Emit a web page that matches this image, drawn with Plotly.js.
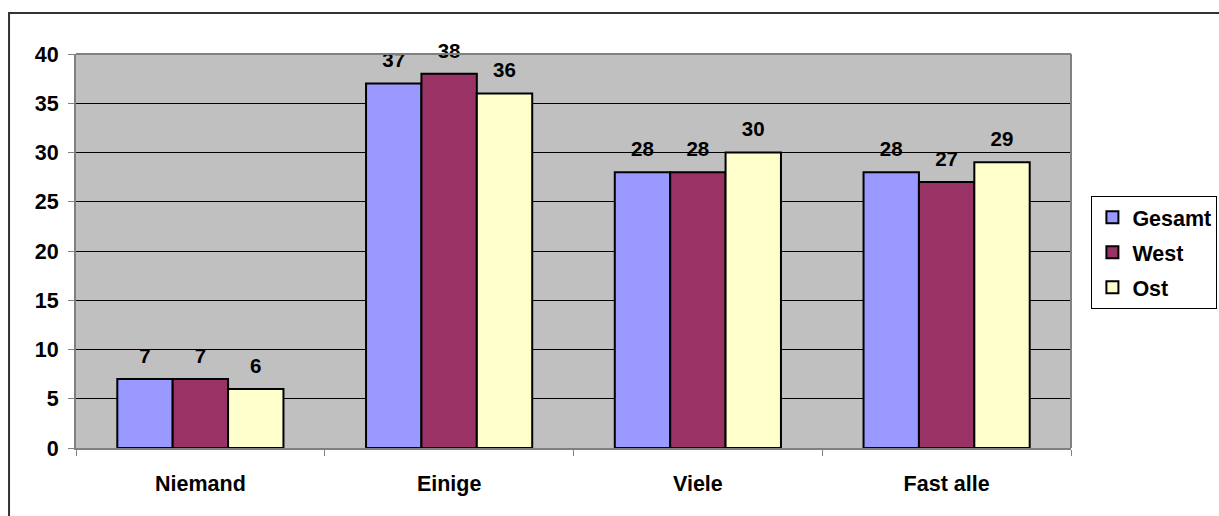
<!DOCTYPE html>
<html><head><meta charset="utf-8">
<script src="https://cdn.plot.ly/plotly-3.0.1.min.js"></script>
<style>html,body{margin:0;padding:0;background:#fff}#chart{width:1219px;height:516px}</style>
</head><body><div id="chart"></div>
<script>
const categories = ["Niemand", "Einige", "Viele", "Fast alle"];
const seriesNames = ["Gesamt", "West", "Ost"];
const gesamt = [7, 37, 28, 28];
const west = [7, 38, 28, 27];
const ost = [6, 36, 30, 29];
const colors = ["#9999FF", "#993366", "#FFFFCC"];
const yTicks = [0, 5, 10, 15, 20, 25, 30, 35, 40];

const font = "Liberation Sans, Arial, sans-serif";
const values = [gesamt, west, ost];
const bars = values.map((v, i) => ({
  type: "bar",
  name: seriesNames[i],
  x: categories,
  y: v,
  legendgroup: "g" + i,
  offsetgroup: "o" + i,
  alignmentgroup: "a",
  marker: {color: colors[i], line: {color: "#000", width: 2}},
  hoverinfo: "skip"
}));
const labels = values.map((v, i) => ({
  type: "scatter",
  mode: "markers+text",
  x: categories,
  y: v,
  showlegend: false,
  offsetgroup: "o" + i,
  alignmentgroup: "a",
  marker: {size: 16, opacity: 0, color: colors[i]},
  text: v.map(String),
  texttemplate: "<b>%{text}</b>",
  textposition: "top center",
  textfont: {family: font, size: 20.5, color: "#000"},
  cliponaxis: false
}));

const layout = {
  width: 1219, height: 516,
  margin: {l: 76, r: 148, t: 54, b: 68, autoexpand: false},
  paper_bgcolor: "#fff",
  plot_bgcolor: "#C0C0C0",
  barmode: "group",
  bargap: 0.332,
  bargroupgap: 0,
  scattermode: "group",
  scattergap: 0.332,
  showlegend: true,
  legend: {
    x: 1.0205, y: 0.64, xanchor: "left", yanchor: "top",
    bordercolor: "#000", borderwidth: 1, bgcolor: "#fff",
    font: {family: font, size: 21.5, color: "#000", weight: "bold"},
    tracegroupgap: 4, itemwidth: 30
  },
  xaxis: {
    type: "category",
    tickson: "boundaries",
    ticks: "outside", ticklen: 6, tickcolor: "#808080", tickwidth: 1,
    showline: true, linecolor: "#808080", linewidth: 2, mirror: false,
    showgrid: false,
    tickfont: {family: font, size: 21.5, color: "#000", weight: "bold"},
    ticklabelstandoff: 15
  },
  yaxis: {
    range: [0, 40],
    tickvals: yTicks,
    ticktext: yTicks.map(String),
    ticks: "outside", ticklen: 6, tickcolor: "#808080", tickwidth: 1,
    showline: true, linecolor: "#808080", linewidth: 2,
    showgrid: true, gridcolor: "#000", gridwidth: 1,
    zeroline: false,
    tickfont: {family: font, size: 21.5, color: "#000", weight: "bold"},
    ticklabelstandoff: 5
  },
  shapes: [
    {type: "line", xref: "paper", yref: "paper", x0: 1, x1: 1, y0: 0, y1: 1,
     line: {color: "#808080", width: 2}},
    {type: "line", xref: "paper", yref: "paper", x0: 0, x1: 1, y0: 1, y1: 1,
     line: {color: "#808080", width: 2}},
    {type: "rect", xref: "paper", yref: "paper", x0: -0.0673, x1: 1.3, y0: -0.5, y1: 1.104,
     line: {color: "#333", width: 2}, layer: "below"}
  ]
};
Plotly.newPlot("chart", bars.concat(labels), layout, {displayModeBar: false, staticPlot: true});
</script></body></html>
